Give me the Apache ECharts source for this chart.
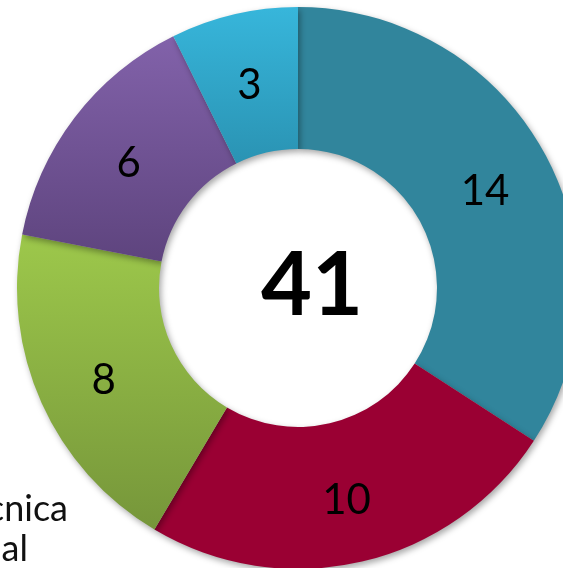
<!DOCTYPE html>
<html>
<head>
<meta charset="utf-8">
<script src="https://cdn.jsdelivr.net/npm/echarts@6/dist/echarts.min.js"></script>
<style>
html,body{margin:0;padding:0;background:#fff;}
#c{width:563px;height:568px;}
</style>
</head>
<body>
<div id="c"></div>
<script>
const categories = ['A', 'B', 'C', 'D', 'E'];
const values = [14, 10, 8, 6, 3];
const totalLabel = '41';
const legendTexts = ['Técnica', 'Nacional'];

const grad = (top, bottom) => ({
  type: 'linear', x: 0, y: 0, x2: 0, y2: 1,
  colorStops: [{offset: 0, color: top}, {offset: 1, color: bottom}]
});
const colors = [
  '#31859C',
  '#9A0033',
  grad('#9DC84B', '#76963A'),
  grad('#8262AA', '#5E447E'),
  grad('#37B6DB', '#2A93B3')
];

const chart = echarts.init(document.getElementById('c'));
chart.setOption({
  backgroundColor: '#fff',
  animation: false,
  graphic: [
    {type: 'text', x: 68, y: 509, z: 1,
     style: {text: legendTexts[0], font: '36px Lato', fill: '#111', align: 'right', verticalAlign: 'middle'}},
    {type: 'text', x: 28, y: 549, z: 1,
     style: {text: legendTexts[1], font: '36px Lato', fill: '#111', align: 'right', verticalAlign: 'middle'}},
    {type: 'text', x: 312, y: 287, z: 10,
     style: {text: totalLabel, font: 'bold 88px Lato', fill: '#000', align: 'center', verticalAlign: 'middle'}}
  ],
  series: [{
    type: 'pie',
    center: [298, 288],
    radius: [139, 281],
    startAngle: 90,
    clockwise: true,
    silent: true,
    z: 5,
    label: {
      show: true, position: 'inside',
      formatter: '{c}', color: '#000',
      fontFamily: 'Lato', fontSize: 42,
      offset: [0, 5]
    },
    labelLine: {show: false},
    itemStyle: {
      borderWidth: 0,
      shadowBlur: 6, shadowColor: 'rgba(0,0,0,0.35)',
      shadowOffsetX: 2, shadowOffsetY: 3
    },
    data: categories.map((n, i) => ({name: n, value: values[i], itemStyle: {color: colors[i]}}))
  }]
});
</script>
</body>
</html>
